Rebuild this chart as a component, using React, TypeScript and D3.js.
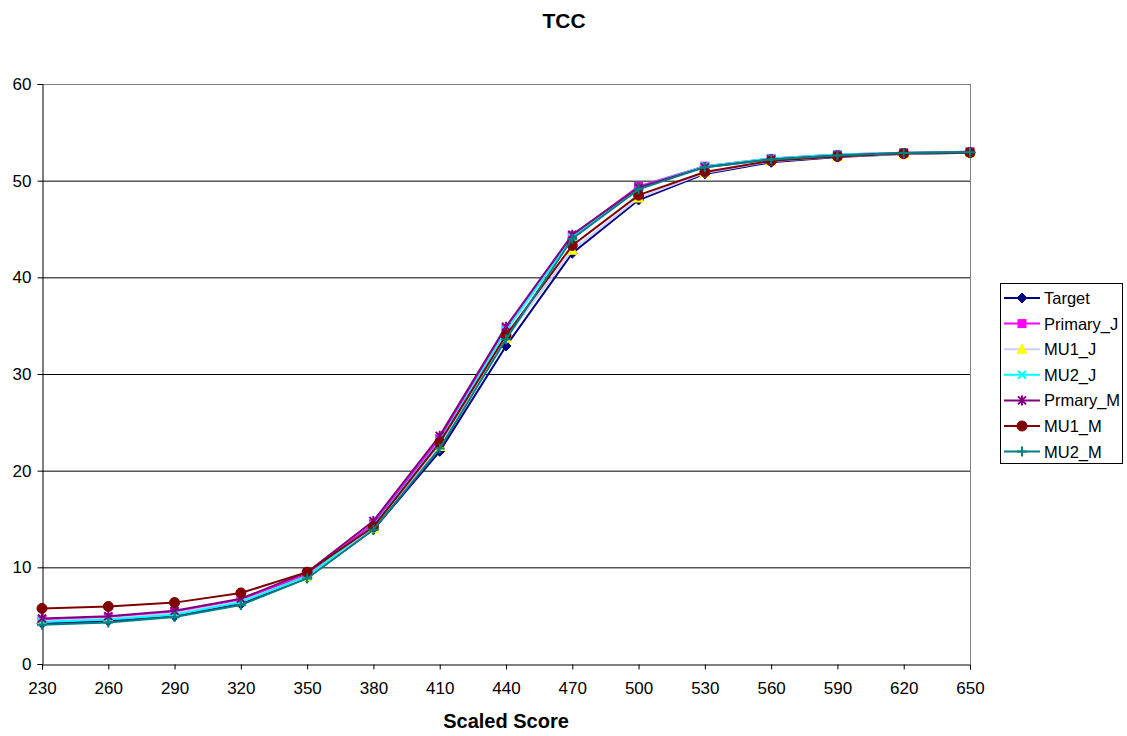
import React, { useEffect, useRef } from "react";
import * as d3 from "d3";

const scores = [230, 260, 290, 320, 350, 380, 410, 440, 470, 500, 530, 560, 590, 620, 650];
const yTicks = [0, 10, 20, 30, 40, 50, 60];

const target = [4.2, 4.45, 4.95, 6.2, 8.9, 13.9, 22.0, 32.9, 42.5, 48.0, 50.7, 51.9, 52.45, 52.75, 52.9];
const primaryJ = [4.55, 4.8, 5.35, 6.6, 9.3, 14.5, 23.3, 34.7, 44.3, 49.4, 51.5, 52.3, 52.7, 52.9, 53.0];
const mu1J = [4.45, 4.7, 5.25, 6.5, 9.0, 14.0, 22.5, 33.7, 42.8, 48.2, 50.8, 52.0, 52.5, 52.75, 52.9];
const mu2J = [4.35, 4.6, 5.1, 6.4, 9.1, 14.3, 23.0, 34.5, 44.1, 49.3, 51.5, 52.3, 52.7, 52.9, 53.0];
const prmaryM = [4.7, 4.95, 5.5, 6.75, 9.5, 14.8, 23.6, 34.9, 44.4, 49.3, 51.4, 52.2, 52.6, 52.85, 52.95];
const mu1M = [5.75, 5.95, 6.35, 7.35, 9.5, 14.2, 22.9, 34.0, 43.3, 48.5, 50.9, 52.05, 52.5, 52.8, 52.9];
const mu2M = [4.05, 4.3, 4.85, 6.1, 8.85, 13.9, 22.3, 33.6, 44.0, 49.1, 51.4, 52.2, 52.6, 52.85, 52.95];

type Series = { name: string; values: number[]; line: string; fill: string; marker: string };
const series: Series[] = [
  { name: "Target", values: target, line: "#000080", fill: "#000080", marker: "diamond" },
  { name: "Primary_J", values: primaryJ, line: "#FF00FF", fill: "#FF00FF", marker: "square" },
  { name: "MU1_J", values: mu1J, line: "#CCCCFF", fill: "#FFFF00", marker: "triangle" },
  { name: "MU2_J", values: mu2J, line: "#00FFFF", fill: "#00FFFF", marker: "x" },
  { name: "Prmary_M", values: prmaryM, line: "#800080", fill: "#800080", marker: "star" },
  { name: "MU1_M", values: mu1M, line: "#800000", fill: "#800000", marker: "circle" },
  { name: "MU2_M", values: mu2M, line: "#008080", fill: "#008080", marker: "plus" },
];

const W = 1127, H = 736;
const plot = { left: 42, right: 970, top: 84, bottom: 664 };

function drawMarker(g: d3.Selection<SVGGElement, unknown, null, undefined>, type: string, x: number, y: number, s: Series) {
  const c = s.fill;
  if (type === "diamond") {
    g.append("path").attr("d", `M${x},${y - 5}L${x + 5},${y}L${x},${y + 5}L${x - 5},${y}Z`).attr("fill", c).attr("stroke", c);
  } else if (type === "square") {
    g.append("rect").attr("x", x - 4).attr("y", y - 4).attr("width", 8).attr("height", 8).attr("fill", c).attr("stroke", c);
  } else if (type === "triangle") {
    g.append("path").attr("d", `M${x},${y - 5}L${x + 5},${y + 4}L${x - 5},${y + 4}Z`).attr("fill", c).attr("stroke", c);
  } else if (type === "x") {
    g.append("path").attr("d", `M${x - 4},${y - 4}L${x + 4},${y + 4}M${x - 4},${y + 4}L${x + 4},${y - 4}`).attr("stroke", c).attr("stroke-width", 2).attr("fill", "none");
  } else if (type === "star") {
    g.append("path").attr("d", `M${x - 4},${y - 4}L${x + 4},${y + 4}M${x - 4},${y + 4}L${x + 4},${y - 4}M${x},${y - 5}L${x},${y + 5}`).attr("stroke", c).attr("stroke-width", 2).attr("fill", "none");
  } else if (type === "circle") {
    g.append("circle").attr("cx", x).attr("cy", y).attr("r", 5).attr("fill", c).attr("stroke", c);
  } else if (type === "plus") {
    g.append("path").attr("d", `M${x - 5},${y}L${x + 5},${y}M${x},${y - 5}L${x},${y + 5}`).attr("stroke", c).attr("stroke-width", 2).attr("fill", "none");
  }
}

export default function App() {
  const ref = useRef<SVGSVGElement>(null);
  useEffect(() => {
    const svg = d3.select(ref.current!);
    svg.selectAll("*").remove();
    const font = "'Liberation Sans', Arial, sans-serif";
    const x = d3.scaleLinear().domain([230, 650]).range([plot.left, plot.right]);
    const y = d3.scaleLinear().domain([0, 60]).range([plot.bottom, plot.top]);

    // gridlines
    const grid = svg.append("g");
    yTicks.filter((t) => t > 0 && t < 60).forEach((t) => {
      grid.append("line").attr("x1", plot.left).attr("x2", plot.right).attr("y1", y(t) + 0.5).attr("y2", y(t) + 0.5).attr("stroke", "#000").attr("stroke-width", 1);
    });
    grid.append("line").attr("x1", plot.left).attr("x2", plot.right).attr("y1", y(60) + 0.5).attr("y2", y(60) + 0.5).attr("stroke", "#808080").attr("stroke-width", 1);
    grid.append("line").attr("x1", plot.right + 0.5).attr("x2", plot.right + 0.5).attr("y1", plot.top).attr("y2", plot.bottom).attr("stroke", "#808080").attr("stroke-width", 1);

    // axes
    const yAxis = svg.append("g").attr("transform", `translate(${plot.left + 0.5},0)`)
      .call(d3.axisLeft(y).tickValues(yTicks).tickSize(5).tickPadding(6));
    yAxis.select(".domain").attr("stroke", "#000");
    yAxis.selectAll("text").attr("font-family", font).attr("font-size", 17).attr("fill", "#000");
    const xAxis = svg.append("g").attr("transform", `translate(0,${plot.bottom + 0.5})`)
      .call(d3.axisBottom(x).tickValues(scores).tickFormat(d3.format("d")).tickSize(5).tickPadding(12));
    xAxis.select(".domain").attr("stroke", "#000");
    xAxis.selectAll("text").attr("font-family", font).attr("font-size", 17).attr("fill", "#000");

    // lines
    const lineGen = d3.line<number>().x((_, i) => x(scores[i])).y((d) => y(d));
    series.forEach((s) => {
      svg.append("path").datum(s.values).attr("d", lineGen).attr("fill", "none").attr("stroke", s.line).attr("stroke-width", 2);
      const mg = svg.append("g");
      s.values.forEach((v, i) => drawMarker(mg, s.marker, x(scores[i]), y(v), s));
    });

    // title
    svg.append("text").attr("x", 564).attr("y", 28).attr("text-anchor", "middle").attr("font-family", font).attr("font-size", 21).attr("font-weight", "bold").text("TCC");
    svg.append("text").attr("x", (plot.left + plot.right) / 2).attr("y", 728).attr("text-anchor", "middle").attr("font-family", font).attr("font-size", 20).attr("font-weight", "bold").text("Scaled Score");

    // legend
    const lg = svg.append("g");
    lg.append("rect").attr("x", 1000.5).attr("y", 283.5).attr("width", 122).attr("height", 180).attr("fill", "#fff").attr("stroke", "#000");
    series.forEach((s, i) => {
      const ly = 298 + i * 25.6;
      lg.append("line").attr("x1", 1004).attr("x2", 1040).attr("y1", ly).attr("y2", ly).attr("stroke", s.line).attr("stroke-width", 2);
      drawMarker(lg, s.marker, 1022, ly, s);
      lg.append("text").attr("x", 1044).attr("y", ly + 6).attr("font-family", font).attr("font-size", 16.5).text(s.name);
    });
  }, []);
  return (
    <svg ref={ref} width={W} height={H} style={{ position: "absolute", left: 0, top: 0, background: "#fff" }} />
  );
}
